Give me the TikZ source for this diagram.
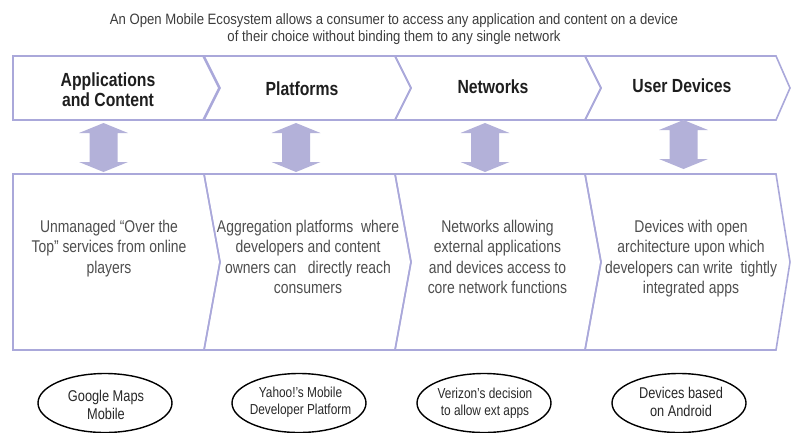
\documentclass[tikz,border=0pt]{standalone}
\usepackage{fontspec}
\setmainfont{Liberation Sans}
\newfontfamily\titlefont[FakeStretch=0.876]{Liberation Sans}
\newfontfamily\headfont[FakeStretch=0.83]{Liberation Sans}
\newfontfamily\bodyfont[FakeStretch=0.82]{Liberation Sans}
\usetikzlibrary{shapes.geometric}

\definecolor{edgepurple}{RGB}{170,168,218}
\definecolor{arrowpurple}{RGB}{179,177,217}
\definecolor{headink}{RGB}{30,30,30}
\definecolor{bodyink}{RGB}{78,78,78}
\definecolor{titleink}{RGB}{60,60,60}
\definecolor{ovalink}{RGB}{40,40,40}

% first-line strut so that anchor=north fixes the first baseline
\newcommand\firstline[1]{\rule{0pt}{#1}}

% vertical two-headed block arrow: centre x, top y, bottom y
\newcommand\twowayblock[3]{%
  \fill[arrowpurple]
    (#1,#2) -- (#1+24.5,#2+10) -- (#1+14,#2+10) -- (#1+14,#3-10)
    -- (#1+24.5,#3-10) -- (#1,#3) -- (#1-24.5,#3-10) -- (#1-14,#3-10)
    -- (#1-14,#2+10) -- (#1-24.5,#2+10) -- cycle;}

\tikzset{
  frame/.style={draw=edgepurple, line width=1.6pt, line join=miter},
  title/.style={font=\titlefont\fontsize{15}{17}\selectfont, text=titleink,
    align=center, inner sep=0pt, anchor=north},
  header/.style={font=\headfont\bfseries\fontsize{19}{20}\selectfont,
    text=headink, align=center, inner sep=0pt},
  body/.style={font=\bodyfont\fontsize{17}{20.4}\selectfont, text=bodyink,
    align=center, inner sep=0pt, anchor=north},
  oval/.style={draw=black, line width=1.4pt, ellipse, inner sep=0pt,
    minimum width=134pt, minimum height=59pt},
  ovaltext/.style={font=\bodyfont\fontsize{15.6}{18}\selectfont, text=ovalink,
    align=center, inner sep=0pt, anchor=north},
  ovalsmall/.style={ovaltext, font=\bodyfont\fontsize{14.45}{17}\selectfont}
}

\begin{document}
\begin{tikzpicture}[x=1pt,y=-1pt]
\useasboundingbox (0,0) rectangle (791,432);

% caption
\node[title] (caption) at (394,11)
  {\firstline{13pt}An Open Mobile Ecosystem allows a consumer to access any application and content on a device\\
   of their choice without binding them to any single network};

% upper chevron band
\draw[frame] (13,56) -- (203,56) -- (219,88) -- (203,120) -- (13,120) -- cycle;
\draw[frame] (204,56) -- (395,56) -- (411,88) -- (395,120) -- (204,120) -- (220,88) -- cycle;
\draw[frame] (395,56) -- (585,56) -- (601,88) -- (585,120) -- (395,120) -- (411,88) -- cycle;
\draw[frame] (585,56) -- (776,56) -- (790,88) -- (776,120) -- (585,120) -- (601,88) -- cycle;

\node[header] (h1) at (108,90) {Applications\\and Content};
\node[header] (h2) at (302,89) {Platforms};
\node[header] (h3) at (493,87) {Networks};
\node[header] (h4) at (682,86) {User Devices};

% two-headed arrows between the bands
\twowayblock{103.5}{123}{172}
\twowayblock{296}{123}{172}
\twowayblock{485}{123}{172}
\twowayblock{683.5}{120}{169}

% lower chevron band
\draw[frame] (13,174) -- (204,174) -- (220,262) -- (204,350) -- (13,350) -- cycle;
\draw[frame] (204,174) -- (395,174) -- (411,262) -- (395,350) -- (204,350) -- (220,262) -- cycle;
\draw[frame] (395,174) -- (585,174) -- (601,262) -- (585,350) -- (395,350) -- (411,262) -- cycle;
\draw[frame] (585,174) -- (776,174) -- (790,262) -- (776,350) -- (585,350) -- (601,262) -- cycle;

\node[body] (b1) at (109,218.3)
  {\firstline{14pt}Unmanaged “Over the\\Top” services from online\\players};
\node[body] (b2) at (308,218.3)
  {\firstline{14pt}Aggregation platforms\ \ where\\developers and content\\owners can\ \ \ directly reach\\consumers};
\node[body] (b3) at (497.5,218.3)
  {\firstline{14pt}Networks allowing\\external applications\\and devices access to\\core network functions};
\node[body] (b4) at (691,218.3)
  {\firstline{14pt}Devices with open\\architecture upon which\\developers can write\ \ tightly\\integrated apps};

% example ovals
\node[oval] (e1) at (105,403) {};
\node[oval] (e2) at (299,403) {};
\node[oval] (e3) at (484,403) {};
\node[oval] (e4) at (679,403) {};

\node[ovaltext] (t1) at (106,388) {\firstline{13pt}Google Maps\\Mobile};
\node[ovalsmall] (t2) at (300.5,385.3) {\firstline{12pt}Yahoo!’s Mobile\\Developer Platform};
\node[ovalsmall] (t3) at (485,386.3) {\firstline{12pt}Verizon’s decision\\to allow ext apps};
\node[ovaltext] (t4) at (681,385.3) {\firstline{13pt}Devices based\\on Android};
\end{tikzpicture}
\end{document}
